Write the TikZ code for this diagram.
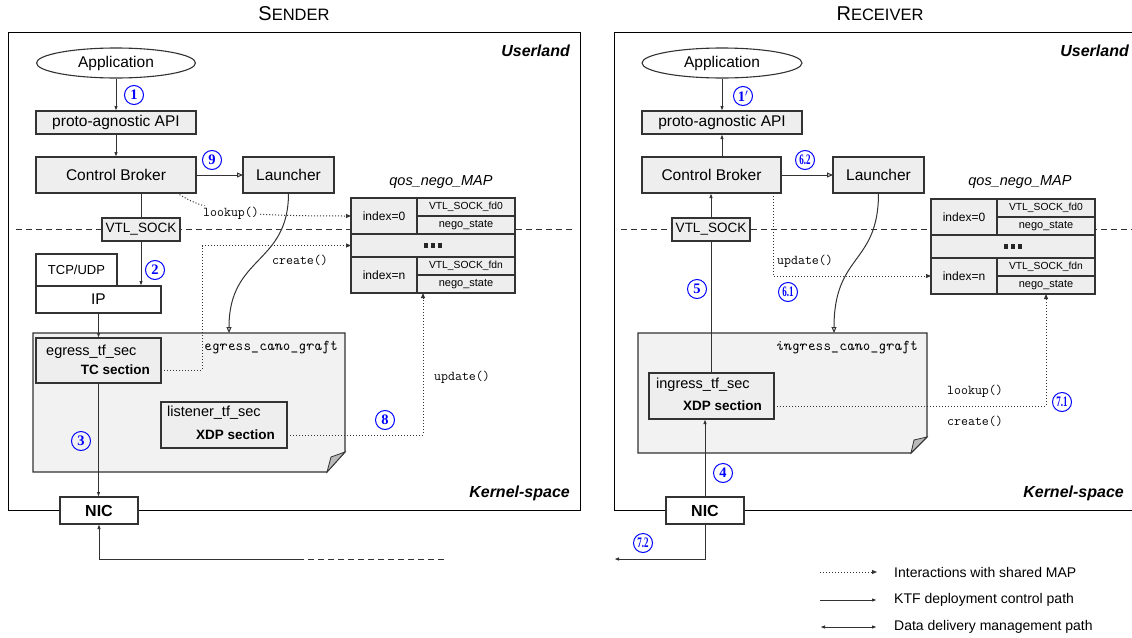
\documentclass[tikz,border=0pt]{standalone}
\usepackage{fontspec}
\setmainfont{Liberation Sans}
\newfontfamily\numfont{Liberation Serif}
\newfontfamily\graftfont{lmmono10-italic.otf}[FakeSlant=-0.22]
\usepackage{graphicx}
\usetikzlibrary{arrows.meta,shapes.geometric}
\definecolor{boxgray}{HTML}{EEEEEE}
\definecolor{notegray}{HTML}{F2F2F2}
\definecolor{lineg}{HTML}{333333}
\definecolor{numblue}{HTML}{0000FF}
\newcommand\myfs[1]{\fontsize{#1}{#1}\selectfont}
\begin{document}
\begin{tikzpicture}[x=1pt,y=-1pt,
  box/.style={draw=lineg,line width=1.1pt,fill=boxgray,inner sep=0pt,outer sep=0pt,font=\myfs{15.5}},
  wbox/.style={box,fill=white},
  cell/.style={box,font=\myfs{11}},
  numc/.style={circle,draw=numblue,text=numblue,line width=1pt,inner sep=0pt,minimum size=19pt,font=\numfont\bfseries\myfs{14.5}},
  code/.style={font=\ttfamily\myfs{13.5},inner sep=1pt},
  dotl/.style={line width=1pt,dash pattern=on 1pt off 2pt,color=lineg},
  darr/.style={dotl,-{Triangle[length=5pt,width=4pt]}},
  plain/.style={line width=1pt,color=lineg},
  sarr/.style={plain,-{Latex[length=5pt,width=3.5pt]}},
  oarr/.style={plain,-{Triangle[open,length=6pt,width=5pt]}},
  dashl/.style={line width=1pt,color=lineg,dash pattern=on 6pt off 4pt},
  legtxt/.style={anchor=west,font=\myfs{14},inner sep=0pt},
  kind/.style={font=\bfseries\itshape\myfs{16},anchor=east,inner sep=0pt},
  grafttxt/.style={anchor=east,font=\graftfont\myfs{15},inner sep=0pt}
]
\useasboundingbox (0,0) rectangle (1132,637);
\clip (0,0) rectangle (1132,637);

% titles
\node (tS) at (294,14) {{\myfs{20}S}{\myfs{16.5}ENDER}};
\node (tR) at (880,14) {{\myfs{20}R}{\myfs{16.5}ECEIVER}};

% panels
\draw[line width=0.9pt] (8,32) rectangle (580,510);
\draw[line width=0.9pt] (614,32) rectangle (1146,510);
\draw[dashl] (16,229) -- (574,229);
\draw[dashl] (621,229) -- (1132,229);

\node[kind] (ulL) at (570,51) {Userland};
\node[kind] (ksL) at (570,493) {Kernel-space};
\node[kind] (ulR) at (1129,51) {Userland};
\node[kind] (ksR) at (1124,493) {Kernel-space};

% ===== SENDER =====
\node[ellipse,draw=lineg,line width=1.1pt,fill=white,minimum width=159pt,minimum height=30pt,inner sep=0pt,font=\myfs{15.5}] (appL) at (116,63) {Application};
\node[box,minimum width=160pt,minimum height=23pt] (apiL) at (116,122.5) {proto-agnostic API};
\node[box,minimum width=160pt,minimum height=36pt] (cbL) at (116,175) {Control Broker};
\node[box,minimum width=91pt,minimum height=36pt] (lauL) at (288.5,175) {Launcher};
\node[box,minimum width=78pt,minimum height=23pt,font=\myfs{13.5}] (vtlL) at (141,229.5) {VTL\_SOCK};
\node[wbox,minimum width=81pt,minimum height=32pt,font=\myfs{13}] (tcpL) at (76.5,270) {TCP/UDP};
\node[wbox,minimum width=125pt,minimum height=27pt] (ipL) at (98.5,299.5) {IP};

% egress graft note
\node[inner sep=0pt,outer sep=0pt,minimum width=312pt,minimum height=139pt] (graftL) at (189,402.5) {};
\draw[fill=notegray,draw=lineg,line width=1.1pt] (graftL.north west) -- (graftL.north east) -- ([yshift=20pt]graftL.south east) -- ([xshift=-18pt]graftL.south east) -- (graftL.south west) -- cycle;
\draw[fill=gray!55,draw=lineg,line width=0.8pt] ([yshift=20pt]graftL.south east) -- ([xshift=-18pt]graftL.south east) -- ([xshift=-14pt,yshift=15pt]graftL.south east) -- cycle;
\node[grafttxt] (gtL) at (338,348) {egress\_cano\_graft};

\node[box,minimum width=125pt,minimum height=45pt] (egL) at (98.5,360.5) {};
\node[anchor=west,font=\myfs{14.5},inner sep=0pt] (egT) at (46,352) {egress\_tf\_sec};
\node[anchor=east,font=\bfseries\myfs{13.5},inner sep=0pt] (egS) at (150,370) {TC section};

\node[box,minimum width=126pt,minimum height=46pt] (lisL) at (224,425) {};
\node[anchor=west,font=\myfs{14.5},inner sep=0pt] (lisT) at (167,413) {listener\_tf\_sec};
\node[anchor=east,font=\bfseries\myfs{13.5},inner sep=0pt] (lisS) at (275,435) {XDP section};

\node[wbox,minimum width=78pt,minimum height=27pt,font=\bfseries\myfs{16}] (nicL) at (99,510.5) {NIC};

% left map
\node[font=\itshape\myfs{14.5}] (mtL) at (441,182) {qos\_nego\_MAP};
\node[cell,minimum width=66pt,minimum height=36pt,font=\myfs{12}] (mL0) at (384,216) {index=0};
\node[cell,minimum width=98pt,minimum height=18pt,font=\myfs{10.3}] (mLfd0) at (466,207) {VTL\_SOCK\_fd0};
\node[cell,minimum width=98pt,minimum height=18pt] (mLns0) at (466,225) {nego\_state};
\node[cell,minimum width=164pt,minimum height=23pt] (mLdots) at (433,245.5) {\color{black!85}\rule{4.5pt}{4.5pt}\hspace{2.5pt}\rule{4.5pt}{4.5pt}\hspace{2.5pt}\rule{4.5pt}{4.5pt}};
\node[cell,minimum width=66pt,minimum height=36pt,font=\myfs{12}] (mLn) at (384,275) {index=n};
\node[cell,minimum width=98pt,minimum height=18pt,font=\myfs{10.3}] (mLfdn) at (466,266) {VTL\_SOCK\_fdn};
\node[cell,minimum width=98pt,minimum height=18pt] (mLnsn) at (466,284) {nego\_state};

% left connectors
\draw[sarr] (appL) -- (apiL);
\draw[sarr] (apiL) -- (cbL);
\draw[oarr] (cbL) -- (lauL);
\draw[plain] (cbL.south -| vtlL) -- (vtlL.north);
\draw[sarr] (vtlL.south) -- (vtlL.south |- ipL.north);
\draw[sarr] (ipL.south -| egL) -- (egL.north);
\draw[sarr] (egL.south) -- (egL.south |- nicL.north);
\draw[oarr] (lauL.south) .. controls +(0,72) and +(0,-78) .. ([xshift=40pt]graftL.north);
\draw[darr] ([xshift=-19pt]cbL.south east) .. controls +(28,18) and +(-120,0) .. (mL0.west);
\draw[darr] (egL.east |- egS) -- ++(41,0) |- (mLdots.west);
\draw[darr] (lisL.east |- lisS) -| ([xshift=6pt]mLnsn.south west);
\coordinate (dL) at (444,559);
\coordinate (dLm) at (303,559);
\draw[plain,dash pattern=on 6pt off 4pt] (dL) -- (dLm);
\draw[sarr] (dLm) -| (nicL.south);

\node[code,fill=white] (lkL) at (231,213) {lookup()};
\node[code] (crL) at (300,260) {create()};
\node[code] (upL) at (462,377) {update()};

% ===== RECEIVER =====
\node[ellipse,draw=lineg,line width=1.1pt,fill=white,minimum width=160pt,minimum height=30pt,inner sep=0pt,font=\myfs{15.5}] (appR) at (722,63) {Application};
\node[box,minimum width=160pt,minimum height=23pt] (apiR) at (722,122.5) {proto-agnostic API};
\node[box,minimum width=139pt,minimum height=36pt] (cbR) at (711.5,175) {Control Broker};
\node[box,minimum width=91pt,minimum height=36pt] (lauR) at (878.5,175) {Launcher};
\node[box,minimum width=78pt,minimum height=23pt,font=\myfs{13.5}] (vtlR) at (711,229.5) {VTL\_SOCK};

\node[inner sep=0pt,outer sep=0pt,minimum width=289pt,minimum height=120pt] (graftR) at (782.5,393) {};
\draw[fill=notegray,draw=lineg,line width=1.1pt] (graftR.north west) -- (graftR.north east) -- ([yshift=16pt]graftR.south east) -- ([xshift=-16pt]graftR.south east) -- (graftR.south west) -- cycle;
\draw[fill=gray!55,draw=lineg,line width=0.8pt] ([yshift=16pt]graftR.south east) -- ([xshift=-16pt]graftR.south east) -- ([xshift=-13pt,yshift=13pt]graftR.south east) -- cycle;
\node[grafttxt] (gtR) at (918,348) {ingress\_cano\_graft};

\node[box,minimum width=125pt,minimum height=46pt] (inR) at (711.5,396) {};
\node[anchor=west,font=\myfs{14.5},inner sep=0pt] (inT) at (656,385) {ingress\_tf\_sec};
\node[anchor=east,font=\bfseries\myfs{13.5},inner sep=0pt] (inS) at (762,406) {XDP section};

\node[wbox,minimum width=78pt,minimum height=27pt,font=\bfseries\myfs{16}] (nicR) at (705,510.5) {NIC};

% right map
\node[font=\itshape\myfs{14.5}] (mtR) at (1020,182) {qos\_nego\_MAP};
\node[cell,minimum width=66pt,minimum height=36pt,font=\myfs{12}] (mR0) at (964,217) {index=0};
\node[cell,minimum width=98pt,minimum height=18pt,font=\myfs{10.3}] (mRfd0) at (1046,208) {VTL\_SOCK\_fd0};
\node[cell,minimum width=98pt,minimum height=18pt] (mRns0) at (1046,226) {nego\_state};
\node[cell,minimum width=164pt,minimum height=23pt] (mRdots) at (1013,246.5) {\color{black!85}\rule{4.5pt}{4.5pt}\hspace{2.5pt}\rule{4.5pt}{4.5pt}\hspace{2.5pt}\rule{4.5pt}{4.5pt}};
\node[cell,minimum width=66pt,minimum height=36pt,font=\myfs{12}] (mRn) at (964,276) {index=n};
\node[cell,minimum width=98pt,minimum height=18pt,font=\myfs{10.3}] (mRfdn) at (1046,267) {VTL\_SOCK\_fdn};
\node[cell,minimum width=98pt,minimum height=18pt] (mRnsn) at (1046,285) {nego\_state};

% right connectors
\draw[sarr] (appR) -- (apiR);
\draw[sarr] (cbR.north -| apiR) -- (apiR.south);
\draw[oarr] (cbR) -- (lauR);
\draw[sarr] (vtlR.north) -- (vtlR.north |- cbR.south);
\draw[plain] (inR.north -| vtlR) -- (vtlR.south);
\draw[sarr] (nicR.north) -- (nicR.north |- inR.south);
\draw[oarr] (lauR.south) .. controls +(0,72) and +(0,-80) .. ([xshift=51.5pt]graftR.north);
\draw[darr] ([xshift=-8pt]cbR.south east) |- (mRn.west);
\draw[darr] (inR.east |- inS) -| (mRnsn.south);
\coordinate (dR) at (614,559);
\draw[sarr] (nicR.south) |- (dR);

\node[code] (upR) at (805,261) {update()};
\node[code] (lkR) at (975,391) {lookup()};
\node[code] (crR) at (975,421) {create()};

% step numbers
\node[numc] (n1) at (134,95) {1};
\node[numc] (n9) at (212,160) {9};
\node[numc] (n2) at (155,270) {2};
\node[numc] (n3) at (81,441) {3};
\node[numc] (n8) at (385,420) {8};
\node[numc] (n1p) at (743,96) {1$'$};
\node[numc] (n62) at (805,160) {\scalebox{0.62}[1]{6.2}};
\node[numc] (n5) at (697,289) {5};
\node[numc] (n61) at (788,292) {\scalebox{0.62}[1]{6.1}};
\node[numc] (n4) at (723,473) {4};
\node[numc] (n71) at (1062,402) {\scalebox{0.62}[1]{7.1}};
\node[numc] (n72) at (643,543) {\scalebox{0.62}[1]{7.2}};

% legend
\coordinate (lg1a) at (820,572); \coordinate (lg1b) at (877,572);
\coordinate (lg2a) at (820,600); \coordinate (lg2b) at (877,600);
\coordinate (lg3a) at (820,627); \coordinate (lg3b) at (877,627);
\draw[darr] (lg1a) -- (lg1b);
\draw[sarr] (lg2a) -- (lg2b);
\draw[plain,{Latex[length=5pt,width=3.5pt]}-{Latex[length=5pt,width=3.5pt]}] (lg3a) -- (lg3b);
\node[legtxt] (lt1) at (894,572) {Interactions with shared MAP};
\node[legtxt] (lt2) at (894,600) {KTF deployment control path};
\node[legtxt] (lt3) at (894,627) {Data delivery management path};
\end{tikzpicture}
\end{document}
